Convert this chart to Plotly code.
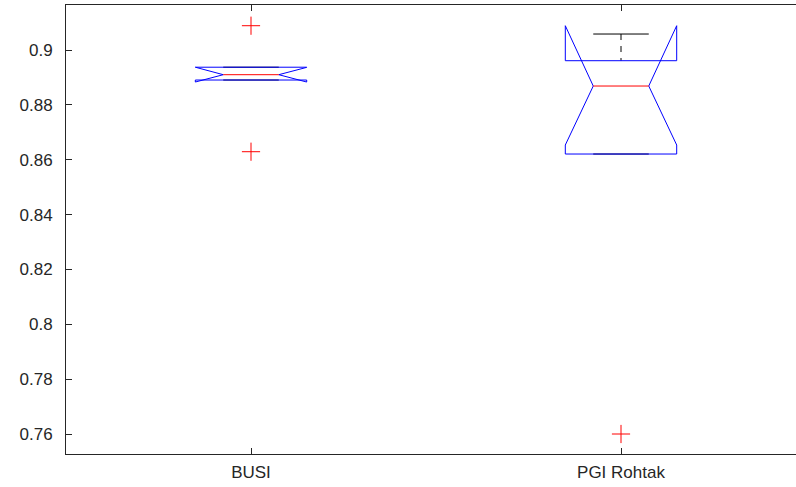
import plotly.graph_objects as go

categories = ["BUSI", "PGI Rohtak"]
q1 = [0.88906, 0.86208]
medians = [0.89100, 0.88687]
q3 = [0.89373, 0.89610]
notch_lo = [0.88833, 0.86536]
notch_hi = [0.89367, 0.90886]
whisker_lo = [0.88906, 0.86208]
whisker_hi = [0.89373, 0.90583]
outliers = [[0.90886, 0.86292], [0.76]]

yticks = [0.76, 0.78, 0.8, 0.82, 0.84, 0.86, 0.88, 0.9]
ytick_text = ["0.76", "0.78", "0.8", "0.82", "0.84", "0.86", "0.88", "0.9"]

BOX_HALF = 0.1505
NOTCH_HALF = 0.075
AX = "#262626"

fig = go.Figure()
for i, cat in enumerate(categories):
    c = i + 1
    # whiskers
    for a, b in ((whisker_hi[i], q3[i]), (whisker_lo[i], q1[i])):
        fig.add_trace(go.Scatter(x=[c, c], y=[a, b], mode="lines",
                                 line=dict(color="black", width=1, dash="6px,6px"),
                                 showlegend=False, hoverinfo="skip"))
    for w in (whisker_hi[i], whisker_lo[i]):
        fig.add_trace(go.Scatter(x=[c - NOTCH_HALF, c + NOTCH_HALF], y=[w, w], mode="lines",
                                 line=dict(color="black", width=1),
                                 showlegend=False, hoverinfo="skip"))
    # notched box
    xs = [c - BOX_HALF, c - BOX_HALF, c - NOTCH_HALF, c - BOX_HALF, c - BOX_HALF,
          c + BOX_HALF, c + BOX_HALF, c + NOTCH_HALF, c + BOX_HALF, c + BOX_HALF, c - BOX_HALF]
    ys = [q1[i], notch_lo[i], medians[i], notch_hi[i], q3[i],
          q3[i], notch_hi[i], medians[i], notch_lo[i], q1[i], q1[i]]
    fig.add_trace(go.Scatter(x=xs, y=ys, mode="lines", line=dict(color="blue", width=1),
                             showlegend=False, hoverinfo="skip"))
    # median
    fig.add_trace(go.Scatter(x=[c - NOTCH_HALF, c + NOTCH_HALF], y=[medians[i], medians[i]],
                             mode="lines", line=dict(color="red", width=1),
                             showlegend=False, hoverinfo="skip"))
    # outliers
    fig.add_trace(go.Scatter(x=[c] * len(outliers[i]), y=outliers[i], mode="markers",
                             marker=dict(symbol="cross-thin", size=13,
                                         line=dict(color="red", width=1), color="red"),
                             showlegend=False, hoverinfo="skip", cliponaxis=False))

fig.update_layout(
    width=806, height=487,
    margin=dict(l=66, r=0, t=5, b=33, autoexpand=False),
    paper_bgcolor="white", plot_bgcolor="white",
    font=dict(family="Liberation Sans, Arial, sans-serif", size=17, color=AX),
    xaxis=dict(range=[0.5, 2.5], tickvals=[1, 2], ticktext=categories,
               showgrid=False, zeroline=False, showline=True, linecolor=AX, linewidth=1,
               mirror="ticks", ticks="inside", ticklen=6, tickcolor=AX, tickwidth=1,
               automargin=False, ticklabelstandoff=3),
    yaxis=dict(range=[0.75271, 0.91641], tickvals=yticks, ticktext=ytick_text,
               showgrid=False, zeroline=False, showline=True, linecolor=AX, linewidth=1,
               mirror="ticks", ticks="inside", ticklen=6, tickcolor=AX, tickwidth=1,
               ticklabelstandoff=9, automargin=False),
)

fig.write_html("out.html",
               config={"displayModeBar": False, "staticPlot": True},
               post_script=("document.documentElement.style.overflow='hidden';"
                            "document.body.style.margin='0';"
                            "document.body.style.overflow='hidden';"))
